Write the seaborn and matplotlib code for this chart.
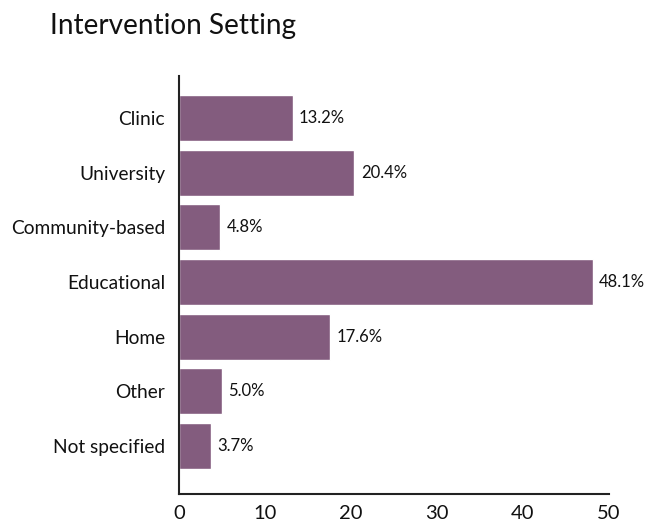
import matplotlib
matplotlib.use("Agg")
import matplotlib.pyplot as plt
import seaborn as sns
import pandas as pd

categories = ["Clinic", "University", "Community-based", "Educational", "Home", "Other", "Not specified"]
values = [13.2, 20.4, 4.8, 48.1, 17.6, 5.0, 3.7]
xticks = [0, 10, 20, 30, 40, 50]

sns.set_theme(style="white")
plt.rcParams['font.family'] = ['Lato', 'DejaVu Sans']

df = pd.DataFrame({"setting": categories, "pct": values})

fig = plt.figure(figsize=(6.47, 5.25), dpi=100)
ax = fig.add_axes([179/647, 1-494/525, 430/647, 418/525])
sns.barplot(data=df, x="pct", y="setting", orient="h", color="#835C7E",
            saturation=1, width=0.84, ax=ax)

for i, v in enumerate(values):
    ax.text(v + 0.75, i, f"{v:.1f}%", va="center", ha="left", fontsize=12, color="#111111")

ax.set_xlim(0, 50)
ax.set_ylim(6.88, -0.77)
ax.set_xticks(xticks)
ax.set_xticklabels([str(t) for t in xticks], fontsize=14.5)
ax.tick_params(axis="x", direction="in", length=7, width=1.3, color="#222222", pad=8, labelcolor="#111111")
ax.tick_params(axis="y", length=0, pad=10, labelsize=13.8, labelcolor="#111111")
ax.set_xlabel("")
ax.set_ylabel("")
for s in ["top", "right"]:
    ax.spines[s].set_visible(False)
for s in ["left", "bottom"]:
    ax.spines[s].set_color("#222222")
    ax.spines[s].set_linewidth(1.5)

fig.text(50/647, 1-34/525, "Intervention Setting", fontsize=20.2, color="#111111", ha="left", va="baseline")

fig.savefig("out.png", dpi=100)
